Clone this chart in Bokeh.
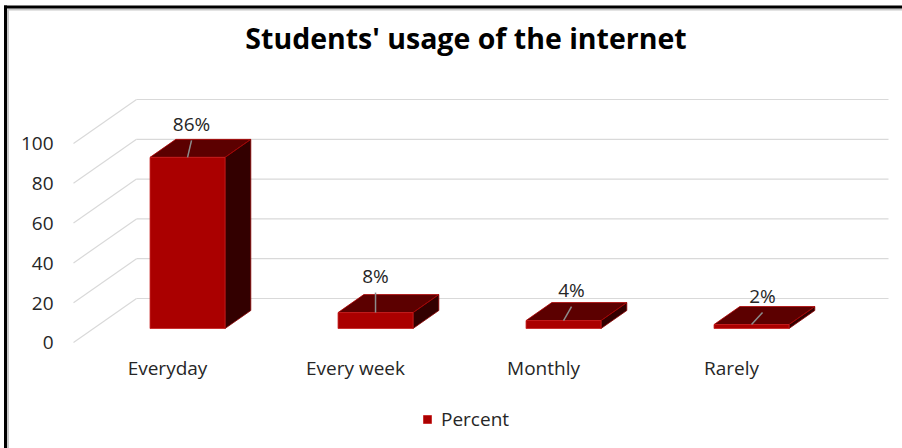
from bokeh.plotting import figure
from bokeh.models import Range1d, Legend, LegendItem
from bokeh.core.properties import value
from bokeh.embed import file_html
from bokeh.resources import INLINE

# ---------------- data ----------------
title_text = "Students' usage of the internet"
categories = ["Everyday", "Every week", "Monthly", "Rarely"]
percent = [86, 8, 4, 2]
percent_labels = ["86%", "8%", "4%", "2%"]
y_ticks = [0, 20, 40, 60, 80, 100]
y_tick_labels = ["0", "20", "40", "60", "80", "100"]
series_name = "Percent"

# ---------------- layout / style constants (pixels) ----------------
W, H = 902, 448
CAT_PX = 188.0          # pixels per category slot
VAL_PX = 1.99           # pixels per value unit
ORIGIN_X = 73.0         # canvas x of category axis start (front plane)
ORIGIN_Y = 342.0        # canvas y of value 0 (front plane)
DEPTH_DX, DEPTH_DY = 63.0, 44.0   # oblique depth of the floor
BAR_W_PX = 75.0
F_FRONT, F_BACK = 0.318, 0.727    # depth fractions of bar front / back
LABEL_OFF = [(4, -26), (0, -29), (8, -23), (11, -21)]   # data-label baseline offsets (px)
FONT = "Open Sans"
FS_PX = 19
FS = f"{FS_PX}px"
TITLE_FS_PX = 28.5
BASE_FIX = 0.4          # svg alphabetic-baseline correction (fraction of font size)
C_FRONT, C_TOP, C_SIDE = "#AA0000", "#5C0000", "#330000"
GRID = "#D9D9D9"
TXT = "#262626"

def dxp(px):
    return px / CAT_PX

def dvp(px):  # px measured downward on screen
    return -px / VAL_PX

def px_x(cx):   # canvas x -> data x
    return (cx - ORIGIN_X) / CAT_PX

def px_y(cy):   # canvas y -> data y
    return (ORIGIN_Y - cy) / VAL_PX

x0, x1 = px_x(0), px_x(W)
y0, y1 = px_y(H), px_y(0)

p = figure(width=W, height=H, x_range=Range1d(x0, x1), y_range=Range1d(y0, y1),
           output_backend="svg", toolbar_location=None,
           x_axis_location=None, y_axis_location=None, min_border=0)
p.grid.visible = False
p.outline_line_color = None
p.background_fill_color = "white"
p.border_fill_color = "white"

n = len(categories)
Dx, Dv = dxp(DEPTH_DX), DEPTH_DY / VAL_PX
bfix = BASE_FIX * FS_PX

# gridlines: diagonal on left wall + horizontal on back wall
p.segment(x0=[0.0] * len(y_ticks), y0=y_ticks,
          x1=[Dx] * len(y_ticks), y1=[t + Dv for t in y_ticks],
          line_color=GRID, line_width=1.2)
p.segment(x0=[Dx] * len(y_ticks), y0=[t + Dv for t in y_ticks],
          x1=[n + Dx] * len(y_ticks), y1=[t + Dv for t in y_ticks],
          line_color=GRID, line_width=1.2)

# y tick labels
p.text(x=[dxp(-20)] * len(y_ticks), y=[t + dvp(8 - bfix) for t in y_ticks], text=y_tick_labels,
       text_font=value(FONT), text_font_size=FS, text_color=TXT,
       text_align="right", text_baseline="alphabetic")

# 3D bars
w = dxp(BAR_W_PX)
fx, fv = F_FRONT * Dx, F_FRONT * Dv
bx, bv = (F_BACK - F_FRONT) * Dx, (F_BACK - F_FRONT) * Dv
front_xs, front_ys, top_xs, top_ys, side_xs, side_ys = [], [], [], [], [], []
end_x, end_y = [], []
for i, h in enumerate(percent):
    c = i + 0.5
    xl, xr = c - w / 2 + fx, c + w / 2 + fx
    vb, vt = fv, h + fv
    front_xs.append([xl, xr, xr, xl]); front_ys.append([vb, vb, vt, vt])
    top_xs.append([xl, xr, xr + bx, xl + bx]); top_ys.append([vt, vt, vt + bv, vt + bv])
    side_xs.append([xr, xr + bx, xr + bx, xr]); side_ys.append([vb, vb + bv, vt + bv, vt])
    end_x.append(c + fx); end_y.append(vt)

p.patches(side_xs, side_ys, fill_color=C_SIDE, line_color="#8B0000", line_width=0.8)
p.patches(top_xs, top_ys, fill_color=C_TOP, line_color="#B00000", line_width=0.8)
front = p.patches(front_xs, front_ys, fill_color=C_FRONT, line_color="#C62020", line_width=0.8)

# data labels with leader lines
lab_x = [ex + dxp(o[0]) for ex, o in zip(end_x, LABEL_OFF)]
lab_y = [ey + dvp(o[1] - bfix) for ey, o in zip(end_y, LABEL_OFF)]
lead_x = [ex + dxp(o[0]) for ex, o in zip(end_x, LABEL_OFF)]
lead_y = [ey + dvp(o[1] + 9) for ey, o in zip(end_y, LABEL_OFF)]
p.segment(x0=end_x, y0=end_y, x1=lead_x, y1=lead_y, line_color="#8C8C8C", line_width=1.5)
p.text(x=lab_x, y=lab_y, text=percent_labels, text_font=value(FONT), text_font_size=FS,
       text_color=TXT, text_align="center", text_baseline="alphabetic")

# category labels
p.text(x=[i + 0.5 for i in range(n)], y=[dvp(33 - bfix)] * n, text=categories,
       text_font=value(FONT), text_font_size=FS, text_color=TXT,
       text_align="center", text_baseline="alphabetic")

# title
p.text(x=[px_x(465.5)], y=[px_y(49 - BASE_FIX * TITLE_FS_PX)], text=[title_text],
       text_font=value(FONT), text_font_size=f"{TITLE_FS_PX}px", text_font_style="bold",
       text_color="black", text_align="center", text_baseline="alphabetic")

# outer border (top and left) with faint shadow
p.line(x=[px_x(7), x1 + dxp(20)], y=[px_y(9), px_y(9)], line_color="#C8C8C8", line_width=2)
p.line(x=[px_x(7.5), px_x(7.5)], y=[px_y(9), y0 - 20], line_color="#C8C8C8", line_width=2)
p.line(x=[px_x(3.5), x1 + dxp(20)], y=[px_y(6.5), px_y(6.5)], line_color="black", line_width=3)
p.line(x=[px_x(5), px_x(5)], y=[px_y(5), y0 - 20], line_color="black", line_width=3)

legend = Legend(items=[LegendItem(label=series_name, renderers=[front])],
                location=(422, 16), orientation="horizontal",
                glyph_width=10, glyph_height=10, label_standoff=9,
                label_text_font=FONT, label_text_font_size=FS, label_text_color=TXT,
                padding=0, margin=0, spacing=0, border_line_color=None,
                background_fill_alpha=0)
p.add_layout(legend)

open("out.html", "w").write(file_html(p, INLINE))
